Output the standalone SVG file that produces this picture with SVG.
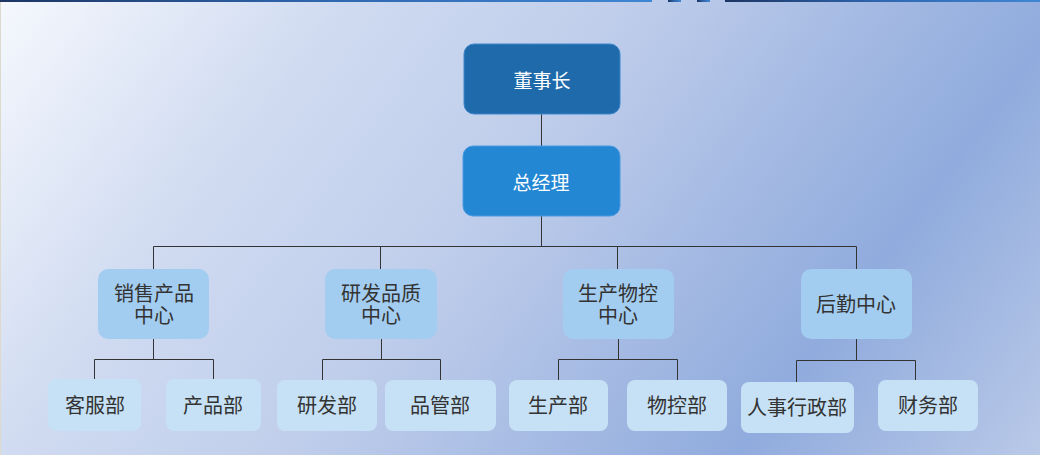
<svg xmlns="http://www.w3.org/2000/svg" width="1040" height="455" viewBox="0 0 1040 455">
<defs>
<linearGradient id="bg" gradientUnits="userSpaceOnUse" x1="0" y1="0" x2="888" y2="660">
<stop offset="0" stop-color="#f5f8fd"/>
<stop offset="0.25" stop-color="#d0dbf1"/>
<stop offset="0.45" stop-color="#c0ceeb"/>
<stop offset="0.78" stop-color="#90abdd"/>
<stop offset="1" stop-color="#b9c9e8"/>
</linearGradient>
<linearGradient id="topline" x1="0" y1="0" x2="1" y2="0">
<stop offset="0" stop-color="#1c3563"/>
<stop offset="0.5" stop-color="#2f67b0"/>
<stop offset="1" stop-color="#3f86d2"/>
</linearGradient>
<style>
text{font-family:"Noto Sans CJK SC","Liberation Sans",sans-serif;font-size:20px;text-anchor:middle;dominant-baseline:central}
.l1 rect{fill:#1f6aab;stroke:#3d86cc;stroke-width:1}
.l1b rect{fill:#2487d4;stroke:#4a9ae0;stroke-width:1}
.l1 text,.l1b text{fill:#ffffff;font-size:19px}
.l2 rect{fill:#a3cdf0}
.l3 rect{fill:#c6e1f5}
.l2 text,.l3 text{fill:#333333}
#connectors path{fill:none;stroke:#333333;stroke-width:1}
</style>
</defs>
<rect x="0" y="0" width="1040" height="455" fill="url(#bg)"/>
<line x1="0.5" y1="0" x2="0.5" y2="455" stroke="#ddd9cc" stroke-width="1"/>
<g fill="url(#topline)">
<rect x="0" y="0" width="652" height="2"/>
<rect x="668" y="0" width="13" height="2"/>
<rect x="697" y="0" width="13" height="2"/>
<rect x="725" y="0" width="315" height="2"/>
</g>
<g id="connectors">
<path d="M541.5 114V146M541.5 216V246.5"/>
<path d="M153.5 269V246.5H856.5V269M380.5 246.5V269M617.5 246.5V269"/>
<path d="M153.5 339V359.5M94.5 380V359.5H213.5V380"/>
<path d="M381.5 339V359.5M322.5 380V359.5H440.5V380"/>
<path d="M618.5 339V359.5M558.5 380V359.5H677.5V380"/>
<path d="M856.5 339V360.5M796.5 382V360.5H915.5V380"/>
</g>
<g id="n-dsz" class="l1"><rect x="464" y="44" width="156" height="70" rx="10"/><text x="542" y="79">董事长</text></g>
<g id="n-zjl" class="l1b"><rect x="463" y="146" width="157" height="70" rx="10"/><text x="541" y="181">总经理</text></g>
<g id="n-xs" class="l2"><rect x="98" y="269" width="111" height="70" rx="10"/><text x="154" y="292">销售产品</text><text x="154" y="314">中心</text></g>
<g id="n-yf" class="l2"><rect x="325" y="269" width="112" height="70" rx="10"/><text x="381" y="292">研发品质</text><text x="381" y="314">中心</text></g>
<g id="n-sc" class="l2"><rect x="563" y="269" width="111" height="70" rx="10"/><text x="618" y="292">生产物控</text><text x="618" y="314">中心</text></g>
<g id="n-hq" class="l2"><rect x="801" y="269" width="111" height="70" rx="10"/><text x="856" y="303">后勤中心</text></g>
<g id="n-kf" class="l3"><rect x="48" y="379" width="93" height="52" rx="8"/><text x="95" y="404">客服部</text></g>
<g id="n-cp" class="l3"><rect x="166" y="379" width="95" height="52" rx="8"/><text x="213" y="404">产品部</text></g>
<g id="n-yfb" class="l3"><rect x="277" y="380" width="100" height="51" rx="8"/><text x="327" y="404">研发部</text></g>
<g id="n-pg" class="l3"><rect x="385" y="380" width="111" height="51" rx="8"/><text x="440" y="404">品管部</text></g>
<g id="n-scb" class="l3"><rect x="509" y="380" width="99" height="51" rx="8"/><text x="558" y="404">生产部</text></g>
<g id="n-wk" class="l3"><rect x="627" y="380" width="100" height="51" rx="8"/><text x="677" y="404">物控部</text></g>
<g id="n-rs" class="l3"><rect x="741" y="382" width="113" height="51" rx="8"/><text x="797" y="406">人事行政部</text></g>
<g id="n-cw" class="l3"><rect x="878" y="380" width="100" height="51" rx="8"/><text x="928" y="404">财务部</text></g>
</svg>
